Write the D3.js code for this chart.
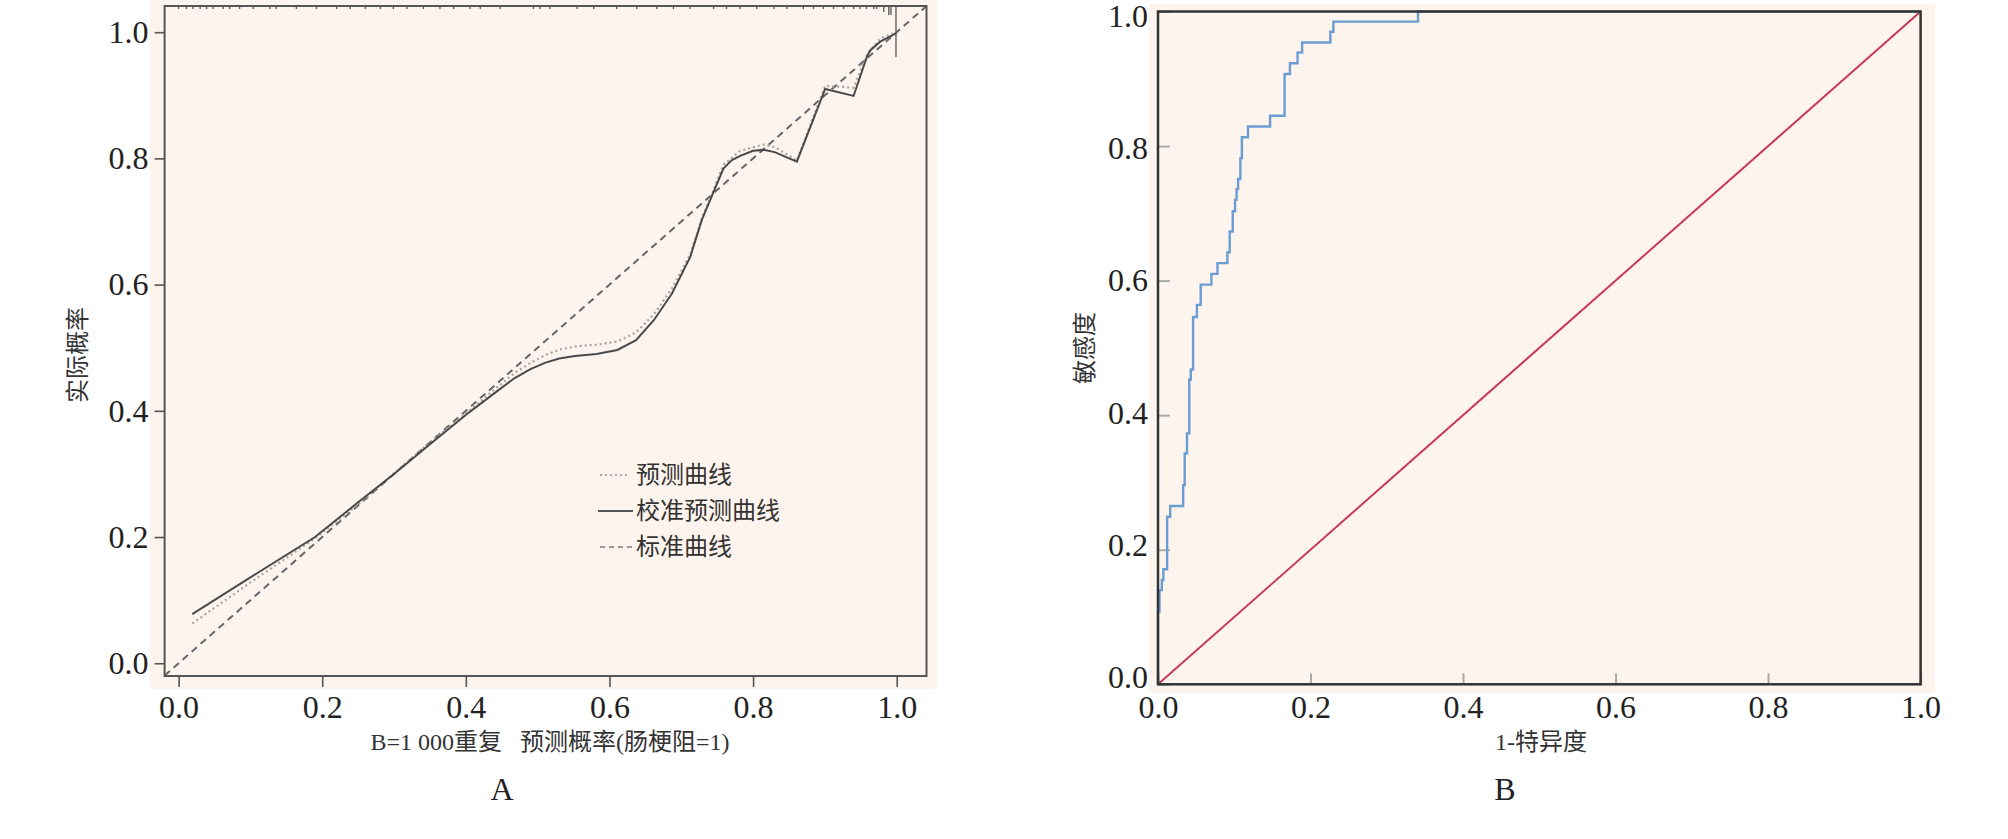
<!DOCTYPE html>
<html><head><meta charset="utf-8">
<script src="https://cdn.jsdelivr.net/npm/d3@7"></script>
<style>body{margin:0;background:#fff;}svg{display:block}</style>
</head><body>
<svg id="c" width="2008" height="839"></svg>
<script>
// ---------------- DATA ----------------
const tickValues = [0, 0.2, 0.4, 0.6, 0.8, 1.0];

// Panel A: calibration curves
const apparentX = [0.019,0.10,0.19,0.25,0.30,0.35,0.405,0.44,0.468,0.49,0.51,0.53,0.552,0.582,0.611,0.637,0.662,0.687,0.7125,0.7286,0.745,0.7587,0.782,0.8145,0.83,0.861,0.9004,0.94,0.9585,0.977,0.999];
const apparentY = [0.063,0.128,0.198,0.252,0.301,0.350,0.400,0.434,0.460,0.476,0.488,0.497,0.502,0.505,0.510,0.524,0.553,0.594,0.648,0.705,0.750,0.790,0.812,0.822,0.818,0.797,0.915,0.912,0.964,0.990,1.000];
const correctedX = [0.019,0.10,0.19,0.25,0.30,0.35,0.405,0.44,0.468,0.49,0.51,0.53,0.552,0.582,0.611,0.637,0.662,0.687,0.7125,0.7286,0.745,0.7587,0.77,0.782,0.80,0.8145,0.83,0.861,0.9004,0.94,0.9585,0.963,0.977,0.999];
const correctedY = [0.078,0.136,0.200,0.255,0.300,0.347,0.398,0.428,0.452,0.466,0.476,0.483,0.487,0.490,0.4965,0.512,0.544,0.586,0.644,0.7025,0.747,0.784,0.797,0.804,0.812,0.8135,0.810,0.795,0.910,0.899,0.961,0.971,0.985,0.998];
// rug of predicted probabilities (position, frequency)
const rugX = [0.000,0.011,0.020,0.030,0.039,0.048,0.062,0.071,0.085,0.104,0.127,0.136,0.164,0.192,0.220,0.239,0.260,0.281,0.299,0.318,0.341,0.364,0.383,0.406,0.420,0.448,0.494,0.503,0.517,0.555,0.578,0.610,0.638,0.666,0.689,0.712,0.745,0.763,0.782,0.805,0.829,0.847,0.870,0.884,0.898,0.912,0.926,0.940,0.949,0.958,0.968,0.972,0.982,0.989,0.992,0.999];
const rugN = [1,1,1,1,1,1,1,1,1,1,1,1,1,1,1,1,1,1,1,1,1,1,1,1,1,1,1,1,1,1,1,1,1,1,1,1,1,1,1,1,1,1,1,1,1,1,1,1,1,1,1,1,2,3,3,17];
const legendLabels = ['预测曲线', '校准预测曲线', '标准曲线'];

// Panel B: ROC curve
const rocFpr = [0,0,0.002,0.005,0.007,0.012,0.016,0.033,0.035,0.038,0.041,0.043,0.046,0.051,0.056,0.070,0.078,0.091,0.094,0.098,0.101,0.103,0.105,0.108,0.110,0.118,0.147,0.166,0.173,0.183,0.189,0.226,0.230,0.341,1.0];
const rocTpr = [0,0.108,0.140,0.155,0.171,0.249,0.265,0.296,0.343,0.373,0.453,0.468,0.546,0.564,0.594,0.610,0.626,0.642,0.673,0.703,0.720,0.736,0.751,0.782,0.813,0.829,0.845,0.907,0.923,0.939,0.954,0.970,0.985,1.0,1.0];
const refX = [0, 1];
const refY = [0, 1];

// ---------------- DRAW ----------------
const svg = d3.select('#c');
const fmt = d3.format('.1f');
const serif = '"Liberation Serif","Times New Roman",serif';
const mixed = '"Liberation Serif","Noto Sans CJK SC",sans-serif';
const bg = '#fdf4ed';

// ===== Panel A =====
const boxA = {l:164.6, r:926.5, t:6, b:676};
const xA = d3.scaleLinear().domain([-0.0195, 1.0415]).range([boxA.l, boxA.r]);
const yA = d3.scaleLinear().domain([-0.0202, 1.0415]).range([boxA.b, boxA.t]);
const gA = svg.append('g');
gA.append('rect').attr('x',150).attr('y',0).attr('width',787).attr('height',689).attr('fill',bg);
svg.append('defs').append('clipPath').attr('id','clipA').append('rect')
  .attr('x',boxA.l).attr('y',boxA.t).attr('width',boxA.r-boxA.l).attr('height',boxA.b-boxA.t);

const lineA = d3.line().x(d=>xA(d[0])).y(d=>yA(d[1]));
const lo = Math.max(xA.domain()[0], yA.domain()[0]);
const hi = Math.min(xA.domain()[1], yA.domain()[1]);
gA.append('path').attr('d', lineA([[lo,lo],[hi,hi]])).attr('clip-path','url(#clipA)')
  .attr('fill','none').attr('stroke','#666').attr('stroke-width',2).attr('stroke-dasharray','7,5');
gA.append('path').attr('d', lineA(d3.zip(apparentX, apparentY)))
  .attr('fill','none').attr('stroke','#aaa29e').attr('stroke-width',2.2).attr('stroke-dasharray','2,3');
gA.append('path').attr('d', lineA(d3.zip(correctedX, correctedY)))
  .attr('fill','none').attr('stroke','#4a4a4a').attr('stroke-width',2);

// rug
const rugTop = yA(yA.domain()[1]);
gA.selectAll('line.rug').data(d3.zip(rugX, rugN)).join('line').attr('class','rug')
  .attr('x1',d=>xA(d[0])).attr('x2',d=>xA(d[0]))
  .attr('y1',rugTop).attr('y2',d=>rugTop + d[1]*3)
  .attr('stroke','#555').attr('stroke-width',1.3);

// box
gA.append('rect').attr('x',boxA.l).attr('y',boxA.t).attr('width',boxA.r-boxA.l).attr('height',boxA.b-boxA.t)
  .attr('fill','none').attr('stroke','#555').attr('stroke-width',2);

// axes
const axLA = gA.append('g').attr('transform',`translate(${boxA.l},0)`)
  .call(d3.axisLeft(yA).tickValues(tickValues).tickFormat(fmt).tickSize(10).tickPadding(6));
const axBA = gA.append('g').attr('transform',`translate(0,${boxA.b})`)
  .call(d3.axisBottom(xA).tickValues(tickValues).tickFormat(fmt).tickSize(11).tickPadding(8));
[axLA, axBA].forEach(a=>{
  a.select('.domain').remove();
  a.selectAll('.tick line').attr('stroke','#555').attr('stroke-width',1.6);
  a.selectAll('.tick text').attr('fill','#222').style('font-family',serif).style('font-size','32px');
});

// titles
gA.append('text').attr('x',550).attr('y',742).attr('text-anchor','middle').attr('dominant-baseline','central')
  .style('font-family',mixed).style('font-size','24px').style('white-space','pre').attr('fill','#333')
  .text('B=1 000重复   预测概率(肠梗阻=1)');
gA.append('text').attr('transform','translate(78,355) rotate(-90)').attr('text-anchor','middle').attr('dominant-baseline','central')
  .style('font-family',mixed).style('font-size','24px').attr('fill','#333').text('实际概率');
gA.append('text').attr('x',502).attr('y',800).attr('text-anchor','middle')
  .style('font-family',serif).style('font-size','32px').attr('fill','#222').text('A');

// legend
const legY = [475, 511, 547];
const legStyles = [
  {stroke:'#b0a8a4', dash:'2,3', x1:600, x2:628},
  {stroke:'#555', dash:null, x1:598, x2:633},
  {stroke:'#999', dash:'5,4', x1:600, x2:633}
];
legendLabels.forEach((lab,i)=>{
  const s = legStyles[i];
  gA.append('line').attr('x1',s.x1).attr('x2',s.x2).attr('y1',legY[i]).attr('y2',legY[i])
    .attr('stroke',s.stroke).attr('stroke-width',2).attr('stroke-dasharray',s.dash);
  gA.append('text').attr('x',636).attr('y',legY[i]).attr('dominant-baseline','central')
    .style('font-family',mixed).style('font-size','24px').attr('fill','#333').text(lab);
});

// ===== Panel B =====
const boxB = {l:1158, r:1920.6, t:11.5, b:684.3};
const xB = d3.scaleLinear().domain([0,1]).range([boxB.l, boxB.r]);
const yB = d3.scaleLinear().domain([0,1]).range([boxB.b, boxB.t]);
const gB = svg.append('g');
gB.append('rect').attr('x',1149).attr('y',4).attr('width',786).attr('height',689).attr('fill',bg);

const axLB = gB.append('g').attr('transform',`translate(${boxB.l},0)`)
  .call(d3.axisLeft(yB).tickValues(tickValues).tickFormat(fmt).tickSize(-12).tickPadding(10));
const axBB = gB.append('g').attr('transform',`translate(0,${boxB.b})`)
  .call(d3.axisBottom(xB).tickValues(tickValues).tickFormat(fmt).tickSize(-11).tickPadding(11));
[axLB, axBB].forEach(a=>{
  a.select('.domain').remove();
  a.selectAll('.tick line').attr('stroke','#aaa').attr('stroke-width',2);
  a.selectAll('.tick text').attr('fill','#222').style('font-family',serif).style('font-size','32px');
});
// labels of the left axis sit slightly closer together than the ticks in the reference
axLB.selectAll('.tick text').attr('transform', d => `translate(0,${-7 + 11.5*d})`);

const lineB = d3.line().x(d=>xB(d[0])).y(d=>yB(d[1]));
gB.append('path').attr('d', lineB(d3.zip(refX, refY)))
  .attr('fill','none').attr('stroke','#c8385a').attr('stroke-width',2);
gB.append('path').attr('d', lineB.curve(d3.curveStepAfter)(d3.zip(rocFpr, rocTpr)))
  .attr('fill','none').attr('stroke','#6b9dd2').attr('stroke-width',2.4);

gB.append('rect').attr('x',boxB.l).attr('y',boxB.t).attr('width',boxB.r-boxB.l).attr('height',boxB.b-boxB.t)
  .attr('fill','none').attr('stroke','#333').attr('stroke-width',2.5);

gB.append('text').attr('x',1541).attr('y',742).attr('text-anchor','middle').attr('dominant-baseline','central')
  .style('font-family',mixed).style('font-size','24px').attr('fill','#333').text('1-特异度');
gB.append('text').attr('transform','translate(1085,348) rotate(-90)').attr('text-anchor','middle').attr('dominant-baseline','central')
  .style('font-family',mixed).style('font-size','24px').attr('fill','#333').text('敏感度');
gB.append('text').attr('x',1505).attr('y',800).attr('text-anchor','middle')
  .style('font-family',serif).style('font-size','32px').attr('fill','#222').text('B');
</script>
</body></html>
